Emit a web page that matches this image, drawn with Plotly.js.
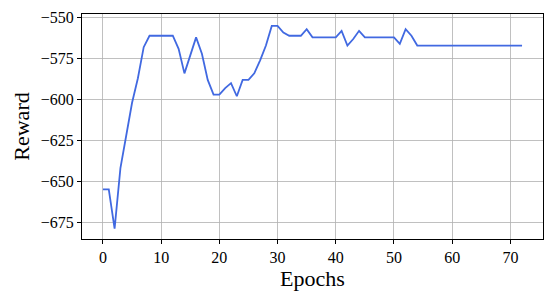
<!DOCTYPE html>
<html>
<head>
<meta charset="utf-8">
<script src="https://cdn.plot.ly/plotly-3.0.1.min.js"></script>
<style>
  html, body { margin: 0; padding: 0; background: #fff; }
  #chart { width: 550px; height: 294px; }
</style>
</head>
<body>
<div id="chart"></div>
<script>
// reward per epoch
var epochs = [];
for (var i = 0; i <= 72; i++) epochs.push(i);

var reward = [
  -655, -655, -679, -642, -622, -602, -587, -568, -561, -561,
  -561, -561, -561, -569, -584, -573, -562, -572, -588, -597,
  -597, -593, -590, -598, -588, -588, -584, -576, -567, -555,
  -555, -559, -561, -561, -561, -557, -562, -562, -562, -562,
  -562, -558, -567, -563, -558, -562, -562, -562, -562, -562,
  -562, -566, -557, -561, -567, -567, -567, -567, -567, -567,
  -567, -567, -567, -567, -567, -567, -567, -567, -567, -567,
  -567, -567, -567
];

var xTicks = [0, 10, 20, 30, 40, 50, 60, 70];
var yTicks = [-675, -650, -625, -600, -575, -550];
var yTickText = ["\u2212675", "\u2212650", "\u2212625", "\u2212600", "\u2212575", "\u2212550"];

var fontFamily = "'Liberation Serif', 'DejaVu Serif', serif";

var trace = {
  x: epochs,
  y: reward,
  type: "scatter",
  mode: "lines",
  line: { color: "#4169e1", width: 1.8 },
  hoverinfo: "skip",
};

var layout = {
  width: 550,
  height: 294,
  margin: { l: 82, r: 7, t: 14, b: 55 },
  paper_bgcolor: "#fff",
  plot_bgcolor: "#fff",
  showlegend: false,
  font: { family: fontFamily, color: "#000", size: 16 },
  xaxis: {
    range: [-3.6, 75.6],
    tickvals: xTicks,
    showgrid: true,
    gridcolor: "#b0b0b0",
    gridwidth: 0.8,
    zeroline: false,
    showline: true,
    linecolor: "#000",
    linewidth: 1,
    mirror: true,
    ticks: "outside",
    ticklen: 4,
    tickcolor: "#000",
    tickfont: { size: 16 },
    title: { text: "Epochs", font: { size: 22 }, standoff: 3 },
  },
  yaxis: {
    range: [-685.3, -547.7],
    tickvals: yTicks,
    ticktext: yTickText,
    showgrid: true,
    gridcolor: "#b0b0b0",
    gridwidth: 0.8,
    zeroline: false,
    showline: true,
    linecolor: "#000",
    linewidth: 1,
    mirror: true,
    ticks: "outside",
    ticklen: 4,
    tickcolor: "#000",
    tickfont: { size: 16 },
    title: { text: "Reward", font: { size: 22 }, standoff: 5 },
  },
};

Plotly.newPlot("chart", [trace], layout, { displayModeBar: false, staticPlot: true });
</script>
</body>
</html>
